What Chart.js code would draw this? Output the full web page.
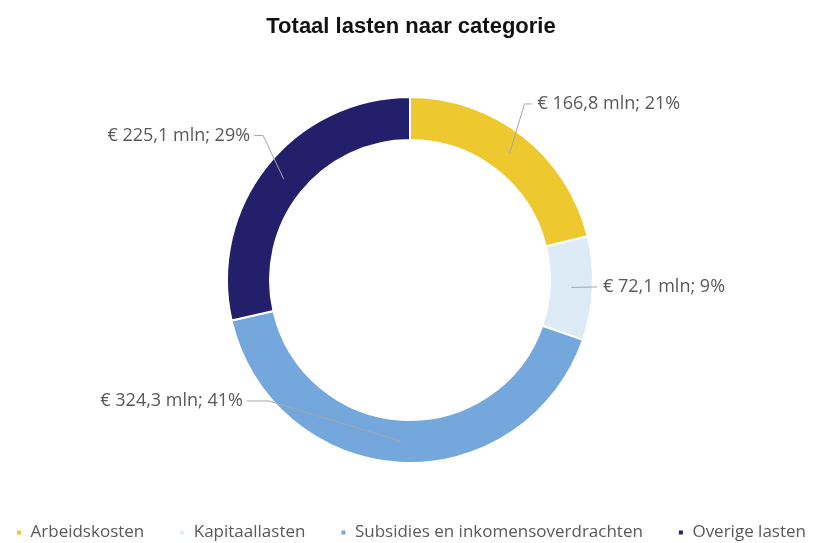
<!DOCTYPE html>
<html>
<head>
<meta charset="utf-8">
<script src="https://cdn.jsdelivr.net/npm/chart.js@4/dist/chart.umd.min.js"></script>
<style>
	html, body { margin: 0; padding: 0; background: #fff; }
	#wrap { width: 820px; height: 543px; }
</style>
</head>
<body>
<div id="wrap"><canvas id="chart"></canvas></div>
<script>
var categories = ["Arbeidskosten", "Kapitaallasten", "Subsidies en inkomensoverdrachten", "Overige lasten"];
var amounts = [166.8, 72.1, 324.3, 225.1];
var percents = [21, 9, 41, 29];
var colors = ["#EEC82F", "#DDEBF7", "#74A8DC", "#231F6A"];

// label anchor, as a fraction of the outer radius, and the elbow shift of the leader line
var labelPlace = [
	{fx: 0.664, fy: -0.962, elbow: -7, side: "left"},
	{fx: 1.022, fy: 0.038, elbow: 0, side: "left"},
	{fx: -0.891, fy: 0.661, elbow: 22, side: "right"},
	{fx: -0.852, fy: -0.79, elbow: 9, side: "right"}
];

function fmt(i) {
	return "\u20ac " + amounts[i].toFixed(1).replace(".", ",") + " mln; " + percents[i] + "%";
}

var leaderLabels = {
	id: "leaderLabels",
	afterDatasetsDraw: function (chart) {
		var ctx = chart.ctx,
			meta = chart.getDatasetMeta(0);
		ctx.save();
		ctx.font = "18px 'Open Sans'";
		ctx.textBaseline = "middle";
		meta.data.forEach(function (arc, i) {
			var p = arc.getProps(["x", "y", "startAngle", "endAngle", "innerRadius", "outerRadius"], true),
				mid = (p.startAngle + p.endAngle) / 2,
				r0 = (p.innerRadius + p.outerRadius) / 2,
				place = labelPlace[i],
				sx = p.x + Math.cos(mid) * r0,
				sy = p.y + Math.sin(mid) * r0,
				ax = p.x + place.fx * p.outerRadius,
				ay = p.y + place.fy * p.outerRadius;
			ctx.strokeStyle = "#A6A6A6";
			ctx.lineWidth = 1;
			ctx.beginPath();
			ctx.moveTo(sx, sy);
			ctx.lineTo(ax + place.elbow, ay);
			ctx.lineTo(ax, ay);
			ctx.stroke();
			ctx.fillStyle = "#595959";
			if (place.side === "left") {
				ctx.textAlign = "left";
				ctx.fillText(fmt(i), ax + 6, ay);
			} else {
				ctx.textAlign = "right";
				ctx.fillText(fmt(i), ax - 4, ay);
			}
		});
		ctx.restore();
	}
};

new Chart(document.getElementById("chart"), {
	type: "doughnut",
	data: {
		labels: categories,
		datasets: [{
			data: amounts,
			backgroundColor: colors,
			borderColor: "#ffffff",
			borderWidth: 2,
			radius: 183
		}]
	},
	options: {
		responsive: true,
		maintainAspectRatio: false,
		animation: false,
		cutout: "76.5%",
		layout: {padding: {left: -25, right: -27, bottom: -8}},
		plugins: {
			title: {
				display: true,
				text: "Totaal lasten naar categorie",
				color: "#111111",
				font: {family: "'Liberation Sans', Arial, sans-serif", size: 22, weight: "bold"},
				padding: {top: 14, bottom: 30.6}
			},
			legend: {
				position: "bottom",
				labels: {
					usePointStyle: true,
					pointStyle: "rect",
					boxWidth: 6,
					boxHeight: 6,
					padding: 35,
					color: "#595959",
					font: {family: "'Open Sans'", size: 17}
				}
			},
			tooltip: {enabled: false}
		}
	},
	plugins: [leaderLabels]
});
</script>
</body>
</html>
